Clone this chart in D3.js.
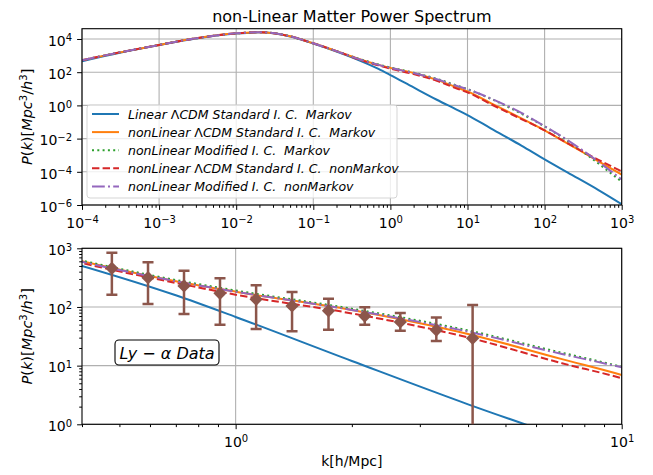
<!DOCTYPE html>
<html>
<head>
<meta charset="utf-8">
<script src="https://cdn.jsdelivr.net/npm/d3@7"></script>
<style>
  body { margin: 0; background: #fff; }
  text { font-family: "DejaVu Sans", sans-serif; }
</style>
</head>
<body>
<div id="chart"></div>
<script>
// data
const kGrid = [1e-4, 3e-4, 1e-3, 3e-3, 1e-2, 2e-2, 5e-2, 0.1, 0.2, 0.4, 0.7, 1, 2, 4, 7, 10, 20, 50, 100, 200, 500, 1000];

const linearMarkov = [457, 1413, 4266, 1.07e4, 2.14e4, 2.51e4, 1.41e4, 5248, 1738, 501, 158, 67.6,
  12.0, 2.19, 0.603, 0.263, 0.0417, 0.0038, 5.6e-4, 8.9e-5, 7.9e-6, 1.12e-6];
const nonLinStdMarkov = [525, 1514, 4365, 1.10e4, 2.19e4, 2.57e4, 1.45e4, 5495, 1862, 603, 275, 182,
  89.1, 34.7, 12.9, 6.92, 1.38, 0.166, 0.0316, 0.0050, 4.27e-4, 6.8e-5];
const nonLinModMarkov = [525, 1514, 4365, 1.10e4, 2.19e4, 2.57e4, 1.45e4, 5495, 1862, 617, 288, 191,
  93.3, 39.8, 16.6, 9.55, 2.51, 0.316, 0.0537, 0.0071, 3.16e-4, 2.5e-5];
const nonLinStdNonMarkov = [525, 1514, 4365, 1.10e4, 2.19e4, 2.57e4, 1.45e4, 5495, 1862, 562, 257, 162,
  77.6, 30.2, 11.0, 6.1, 1.20, 0.151, 0.0316, 0.0052, 5.2e-4, 1.07e-4];
const nonLinModNonMarkov = [525, 1514, 4365, 1.10e4, 2.19e4, 2.57e4, 1.45e4, 5495, 1862, 589, 275, 182,
  89.1, 38.0, 15.8, 9.33, 2.63, 0.355, 0.0562, 0.0079, 3.98e-4, 3.4e-5];

// Ly-alpha points
const lyK    = [0.478, 0.593, 0.735, 0.911, 1.13, 1.40, 1.74, 2.16, 2.67, 3.31, 4.11];
const lyP    = [456, 316, 228, 171, 135, 104, 86, 70, 55.5, 40.5, 29.3];
const lyHigh = [841, 577, 415, 308, 234, 180, 138, 99, 79, 66, 108];
const lyLow  = [162, 112, 76, 50, 42, 38.5, 41, 50, 39.5, 26.3, 0.01];

const seriesNames = [
  "Linear ΛCDM Standard I. C.  Markov",
  "nonLinear ΛCDM Standard I. C.  Markov",
  "nonLinear Modified I. C.  Markov",
  "nonLinear ΛCDM Standard I. C.  nonMarkov",
  "nonLinear Modified I. C.  nonMarkov"
];
const seriesValues = [linearMarkov, nonLinStdMarkov, nonLinModMarkov, nonLinStdNonMarkov, nonLinModNonMarkov];
const seriesColors = ["#1f77b4", "#ff7f0e", "#2ca02c", "#d62728", "#9467bd"];
const seriesDash = [null, null, "2,3.3", "7.4,3.2", "12.8,3.2,2,3.2"];

const topXTicks = [1e-4, 1e-3, 1e-2, 1e-1, 1, 10, 100, 1000];
const topYTicks = [1e-6, 1e-4, 1e-2, 1, 100, 1e4];
const botXTicks = [1, 10];
const botYTicks = [1, 10, 100, 1000];

// set up
const width = 653, height = 475;
const left = 82, right = 621.7;

const svg = d3.select('#chart').append('svg')
    .attr('width', width)
    .attr('height', height);

const series = seriesNames.map((name, i) => ({
  name, color: seriesColors[i], dash: seriesDash[i],
  pts: kGrid.map((k, j) => [k, seriesValues[i][j]])
}));

function minorsFor(lo, hi) {
  const out = [];
  for (let e = Math.floor(Math.log10(lo)); e < Math.ceil(Math.log10(hi)); e++) {
    for (let m = 2; m <= 9; m++) {
      const v = m * Math.pow(10, e);
      if (v >= lo * 0.999 && v <= hi * 1.001) out.push(v);
    }
  }
  return out;
}

function powLabel(text) {
  text.each(function(d) {
    const t = d3.select(this).text(null);
    const e = Math.round(Math.log10(d));
    t.append('tspan').text('10');
    t.append('tspan').attr('dy', '-0.45em').attr('font-size', '10px')
      .text(String(e).replace('-', '\u2212'));
  });
}

function panel(id, top, bottom, xDomain, yDomain, xMajor, yMajor, yMinor) {
  const x = d3.scaleLog().domain(xDomain).range([left, right]);
  const y = d3.scaleLog().domain(yDomain).range([bottom, top]);
  const g = svg.append('g');

  g.append('clipPath').attr('id', id)
    .append('rect').attr('x', left).attr('y', top)
    .attr('width', right - left).attr('height', bottom - top);

  // grid
  g.append('g').selectAll('line').data(xMajor).join('line')
      .attr('x1', d => x(d)).attr('x2', d => x(d))
      .attr('y1', top).attr('y2', bottom)
      .attr('stroke', '#b0b0b0').attr('stroke-width', 1.1);
  g.append('g').selectAll('line').data(yMajor).join('line')
      .attr('y1', d => y(d)).attr('y2', d => y(d))
      .attr('x1', left).attr('x2', right)
      .attr('stroke', '#b0b0b0').attr('stroke-width', 1.1);

  // curves
  const line = d3.line().x(d => x(d[0])).y(d => y(d[1])).curve(d3.curveMonotoneX);
  g.append('g').attr('clip-path', `url(#${id})`)
    .selectAll('path').data(series).join('path')
      .attr('d', d => line(d.pts))
      .attr('fill', 'none')
      .attr('stroke', d => d.color)
      .attr('stroke-width', 2)
      .attr('stroke-dasharray', d => d.dash);

  // axes
  const xa = g.append('g').attr('transform', `translate(0,${bottom})`)
    .call(d3.axisBottom(x).tickValues(xMajor).tickSize(4.9).tickPadding(4.5).tickFormat(d => d));
  xa.selectAll('.tick text').attr('font-size', '14px').attr('dy', '0.95em').call(powLabel);
  g.append('g').attr('transform', `translate(0,${bottom})`)
    .call(d3.axisBottom(x).tickValues(minorsFor(xDomain[0], xDomain[1])).tickSize(2.8).tickFormat(''));

  const ya = g.append('g').attr('transform', `translate(${left},0)`)
    .call(d3.axisLeft(y).tickValues(yMajor).tickSize(4.9).tickPadding(5).tickFormat(d => d));
  ya.selectAll('.tick text').attr('font-size', '14px').attr('dy', '0.45em').call(powLabel);
  if (yMinor) {
    g.append('g').attr('transform', `translate(${left},0)`)
      .call(d3.axisLeft(y).tickValues(minorsFor(yDomain[0], yDomain[1])).tickSize(2.8).tickFormat(''));
  }
  g.selectAll('.domain').remove();
  g.selectAll('.tick line').attr('stroke', '#000').attr('stroke-width', 1);

  g.append('rect').attr('x', left).attr('y', top)
    .attr('width', right - left).attr('height', bottom - top)
    .attr('fill', 'none').attr('stroke', '#000').attr('stroke-width', 1.1);

  // y label
  const yl = g.append('text')
    .attr('transform', `translate(32,${(top + bottom) / 2}) rotate(-90)`)
    .attr('text-anchor', 'middle').attr('font-size', '14.5px').attr('font-style', 'italic');
  yl.append('tspan').text('P');
  yl.append('tspan').attr('font-style', 'normal').text('(');
  yl.append('tspan').text('k');
  yl.append('tspan').attr('font-style', 'normal').text(')[');
  yl.append('tspan').text('Mpc');
  yl.append('tspan').attr('font-style', 'normal').attr('font-size', '10px').attr('dy', '-0.5em').text('3');
  yl.append('tspan').attr('font-style', 'normal').attr('dy', '0.35em').text('/');
  yl.append('tspan').text('h');
  yl.append('tspan').attr('font-style', 'normal').attr('font-size', '10px').attr('dy', '-0.5em').text('3');
  yl.append('tspan').attr('font-style', 'normal').attr('dy', '0.35em').text(']');

  return { g, x, y };
}

// top panel
const topP = panel('clipTop', 28.7, 205, [1e-4, 1e3], [1e-6, 4.17e4], topXTicks, topYTicks, false);

// title
svg.append('text')
    .attr('x', (left + right) / 2).attr('y', 21.5)
    .attr('text-anchor', 'middle').attr('font-size', '16px')
    .text('non-Linear Matter Power Spectrum');

// legend
const leg = topP.g.append('g');
leg.append('rect')
    .attr('x', 87).attr('y', 105).attr('width', 310).attr('height', 93)
    .attr('rx', 3)
    .attr('fill', '#fff').attr('fill-opacity', 0.8)
    .attr('stroke', '#d5d5d5').attr('stroke-width', 1);
const rows = leg.selectAll('g.row').data(series).join('g')
    .attr('class', 'row')
    .attr('transform', (d, i) => `translate(0,${114 + i * 18.1})`);
rows.append('line')
    .attr('x1', 92).attr('x2', 119)
    .attr('stroke', d => d.color).attr('stroke-width', 2)
    .attr('stroke-dasharray', d => d.dash);
rows.append('text')
    .attr('x', 128).attr('dy', '0.36em')
    .attr('font-size', '12.5px').attr('font-style', 'italic')
    .attr('xml:space', 'preserve')
    .each(function(d) {
      const t = d3.select(this);
      d.name.split('Λ').forEach((part, i) => {
        if (i > 0) t.append('tspan').attr('font-style', 'normal').text('Λ');
        t.append('tspan').text(part);
      });
    });

// bottom panel
const botP = panel('clipBot', 248.3, 424.3, [0.4, 10], [1, 1000], botXTicks, botYTicks, true);

// Ly-alpha error bars
const ly = lyK.map((k, i) => ({ k, p: lyP[i], hi: lyHigh[i], lo: lyLow[i] }));
const eb = botP.g.append('g').attr('clip-path', 'url(#clipBot)');
eb.selectAll('line.err').data(ly).join('line')
    .attr('x1', d => botP.x(d.k)).attr('x2', d => botP.x(d.k))
    .attr('y1', d => botP.y(d.hi)).attr('y2', d => botP.y(d.lo))
    .attr('stroke', '#8c564b').attr('stroke-width', 2.5);
['hi', 'lo'].forEach(key => {
  eb.selectAll('line.cap-' + key).data(ly).join('line')
      .attr('x1', d => botP.x(d.k) - 5.5).attr('x2', d => botP.x(d.k) + 5.5)
      .attr('y1', d => botP.y(d[key])).attr('y2', d => botP.y(d[key]))
      .attr('stroke', '#8c564b').attr('stroke-width', 2.5);
});
eb.selectAll('path.pt').data(ly).join('path')
    .attr('d', d3.symbol(d3.symbolSquare, 88))
    .attr('transform', d => `translate(${botP.x(d.k)},${botP.y(d.p)}) rotate(45)`)
    .attr('fill', '#8c564b');

// Ly-alpha label box
botP.g.append('rect')
    .attr('x', 115).attr('y', 340).attr('width', 104).attr('height', 25)
    .attr('rx', 4)
    .attr('fill', '#fff').attr('stroke', '#000').attr('stroke-width', 1.1);
const lyt = botP.g.append('text')
    .attr('x', 167).attr('y', 358.5)
    .attr('text-anchor', 'middle').attr('font-size', '16px')
    .attr('xml:space', 'preserve');
lyt.append('tspan').attr('font-style', 'italic').text('Ly');
lyt.append('tspan').text(' \u2212 ');
lyt.append('tspan').attr('font-style', 'italic').text('α Data');

// x label
svg.append('text')
    .attr('x', (left + right) / 2).attr('y', 466)
    .attr('text-anchor', 'middle').attr('font-size', '14px')
    .text('k[h/Mpc]');
</script>
</body>
</html>
